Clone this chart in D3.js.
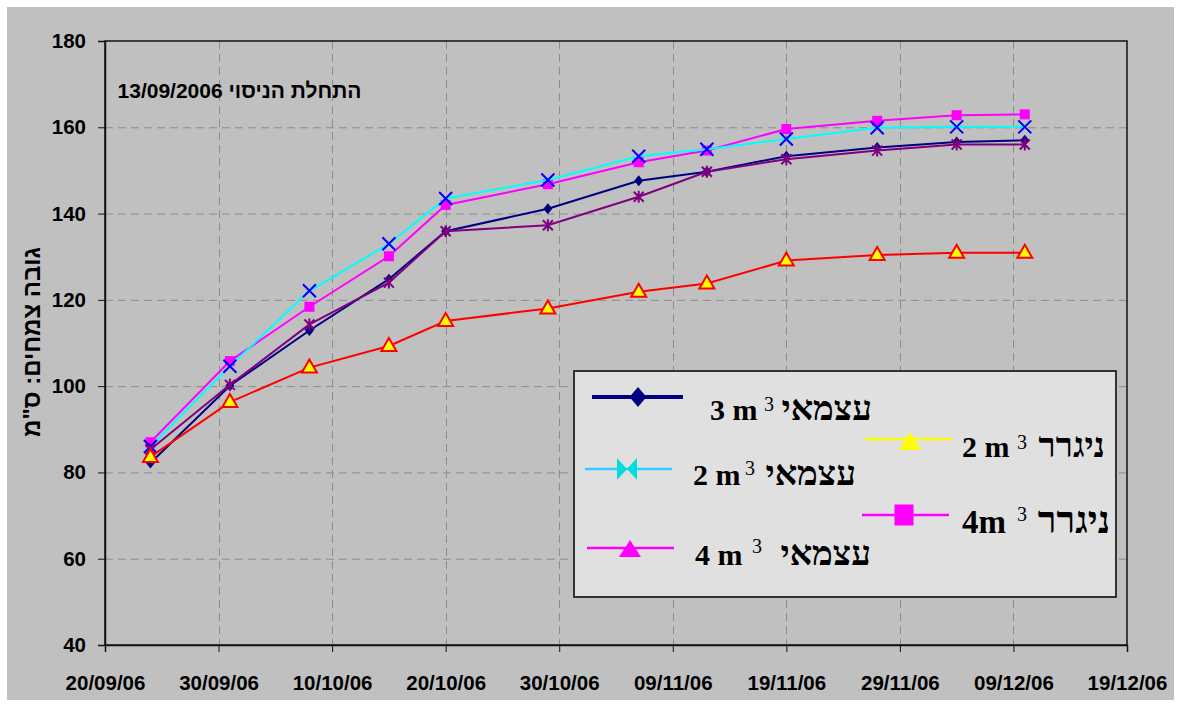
<!DOCTYPE html>
<html><head><meta charset="utf-8">
<script src="https://cdn.jsdelivr.net/npm/d3@7"></script>
<style>
html,body{margin:0;padding:0;background:#fff;}
svg{display:block;}
</style></head>
<body>
<svg id="chart" width="1188" height="707"></svg>
<script>
// ---- data ----
const dates = ["2006-09-24","2006-10-01","2006-10-08","2006-10-15","2006-10-20","2006-10-29","2006-11-06","2006-11-12","2006-11-19","2006-11-27","2006-12-04","2006-12-10"];
const navyDiamond   = [82.2, 100.1, 112.9, 124.8, 135.9, 141.1, 147.6, 149.7, 153.3, 155.3, 156.6, 157.0];
const magentaSquare = [87.0, 105.8, 118.4, 130.1, 142.0, 146.8, 151.9, 154.6, 159.6, 161.5, 162.8, 163.0];
const cyanCross     = [86.0, 104.6, 122.1, 133.0, 143.5, 147.8, 153.3, 154.9, 157.3, 159.9, 160.1, 160.1];
const purpleStar    = [85.3, 100.3, 114.3, 124.0, 135.9, 137.3, 143.9, 149.7, 152.6, 154.6, 156.0, 156.0];
const redTriangle   = [83.6, 96.3, 104.3, 109.3, 115.1, 118.0, 121.9, 123.8, 129.1, 130.4, 130.9, 130.9];
const xTickLabels = ["20/09/06","30/09/06","10/10/06","20/10/06","30/10/06","09/11/06","19/11/06","29/11/06","09/12/06","19/12/06"];
const yTicks = [40, 60, 80, 100, 120, 140, 160, 180];
const yTitle = "גובה צמחים: ס\"מ";
const note = "התחלת הניסוי 13/09/2006";
const legendItems = [
  {num:"3 m", sup:"3", heb:"עצמאי"},
  {num:"2 m", sup:"3", heb:"עצמאי"},
  {num:"4 m", sup:"3", heb:"עצמאי"},
  {num:"2 m", sup:"3", heb:"ניגרר"},
  {num:"4m",  sup:"3", heb:"ניגרר"}
];

// ---- layout ----
const svg = d3.select("#chart");
const L = 105, R = 1127, T = 41, B = 645;
const parse = d3.utcParse("%d/%m/%y");
const parseISO = d3.utcParse("%Y-%m-%d");
const tickDates = xTickLabels.map(parse);
const x = d3.scaleUtc().domain([tickDates[0], tickDates[tickDates.length-1]]).range([L, R]);
const y = d3.scaleLinear().domain([40, 180]).range([B, T]);
const sans = "'Liberation Sans', Arial, sans-serif";
const serif = "'Liberation Serif', 'Times New Roman', serif";

svg.append("rect").attr("x",7).attr("y",7).attr("width",1167).attr("height",693).attr("fill","#c0c0c0");

// grid
const grid = svg.append("g").attr("stroke","#8c8c8c").attr("stroke-width",1).attr("stroke-dasharray","8,5");
grid.selectAll("line.h").data(yTicks.slice(1,-1)).join("line")
  .attr("x1",L).attr("x2",R).attr("y1",d=>y(d)+0.5).attr("y2",d=>y(d)+0.5);
grid.selectAll("line.v").data(tickDates.slice(1,-1)).join("line")
  .attr("x1",d=>Math.round(x(d))+0.5).attr("x2",d=>Math.round(x(d))+0.5).attr("y1",T).attr("y2",B);

// plot border
svg.append("rect").attr("x",L).attr("y",T).attr("width",R-L).attr("height",B-T)
  .attr("fill","none").attr("stroke","#111").attr("stroke-width",1.5);

// axes
const yAxis = svg.append("g").attr("transform",`translate(${L},0)`)
  .call(d3.axisLeft(y).tickValues(yTicks).tickSize(7).tickPadding(12).tickFormat(d3.format("d")));
yAxis.select(".domain").attr("stroke","#111").attr("stroke-width",1.5);
yAxis.selectAll(".tick line").attr("stroke","#111");
yAxis.selectAll("text").attr("font-family",sans).attr("font-weight","bold").attr("font-size",20.5).attr("fill","#000");

const xAxis = svg.append("g").attr("transform",`translate(0,${B})`)
  .call(d3.axisBottom(x).tickValues(tickDates).tickSize(7).tickPadding(23).tickFormat(d3.utcFormat("%d/%m/%y")));
xAxis.select(".domain").attr("stroke","#111").attr("stroke-width",1.5);
xAxis.selectAll(".tick line").attr("stroke","#111");
xAxis.selectAll("text").attr("font-family",sans).attr("font-weight","bold").attr("font-size",20.5).attr("fill","#000");

// y title
svg.append("text").attr("transform","translate(40,342) rotate(-90)")
  .attr("text-anchor","middle").attr("font-family",sans).attr("font-weight","bold")
  .attr("font-size",24).attr("fill","#000").text(yTitle);

// annotation
svg.append("text").attr("x",239.5).attr("y",98).attr("text-anchor","middle")
  .attr("font-family",sans).attr("font-weight","bold").attr("font-size",21)
  .attr("fill","#000").attr("direction","rtl").style("unicode-bidi","embed").text(note);

// ---- series ----
const pts = arr => arr.map((v,i)=>({d:parseISO(dates[i]), v}));
const line = d3.line().x(p=>x(p.d)).y(p=>y(p.v));

function drawSeries(arr, color, marker){
  const g = svg.append("g");
  const data = pts(arr);
  g.append("path").datum(data).attr("d",line).attr("fill","none").attr("stroke",color).attr("stroke-width",2);
  data.forEach(p=>marker(g, x(p.d), y(p.v)));
}
const diamond = (g,cx,cy)=>g.append("path").attr("d",`M${cx},${cy-5.5}L${cx+4.5},${cy}L${cx},${cy+5.5}L${cx-4.5},${cy}Z`).attr("fill","#000080");
const square = (g,cx,cy)=>g.append("rect").attr("x",cx-5).attr("y",cy-5).attr("width",10).attr("height",10).attr("fill","#ff00ff");
const cross = (g,cx,cy)=>g.append("path").attr("d",`M${cx-6.5},${cy-6.5}L${cx+6.5},${cy+6.5}M${cx-6.5},${cy+6.5}L${cx+6.5},${cy-6.5}`).attr("stroke","#0000ff").attr("stroke-width",2);
const star = (g,cx,cy)=>g.append("path").attr("d",`M${cx-5},${cy-5}L${cx+5},${cy+5}M${cx-5},${cy+5}L${cx+5},${cy-5}M${cx},${cy-6}L${cx},${cy+6}`).attr("stroke","#800080").attr("stroke-width",2);
const tri = (g,cx,cy)=>g.append("path").attr("d",`M${cx},${cy-8}L${cx+7.5},${cy+5}L${cx-7.5},${cy+5}Z`).attr("fill","#ffff00").attr("stroke","#ff0000").attr("stroke-width",2);

drawSeries(navyDiamond, "#000080", diamond);
drawSeries(magentaSquare, "#ff00ff", square);
drawSeries(cyanCross, "#00ffff", cross);
drawSeries(purpleStar, "#800080", star);
drawSeries(redTriangle, "#ff0000", tri);

// ---- legend ----
const lg = svg.append("g");
lg.append("rect").attr("x",574).attr("y",371).attr("width",542).attr("height",226)
  .attr("fill","#e0e0e0").attr("stroke","#333").attr("stroke-width",2);

const legendLayout = [
  {x1:592,x2:683,ly:397,mx:638,color:"#000080",lw:4,numX:710,base:420,supX:764,supBase:411,hebEnd:872,fs:30,
   mark:(g,cx,cy)=>g.append("path").attr("d",`M${cx},${cy-10}L${cx+8.5},${cy}L${cx},${cy+10}L${cx-8.5},${cy}Z`).attr("fill","#000080")},
  {x1:585,x2:672,ly:469,mx:627,color:"#33ccff",lw:2.5,numX:693,base:485,supX:745,supBase:475,hebEnd:856,fs:30,
   mark:(g,cx,cy)=>g.append("path").attr("d",`M${cx-10},${cy-11}L${cx},${cy}L${cx-10},${cy+11}Z M${cx+10},${cy-11}L${cx},${cy}L${cx+10},${cy+11}Z`).attr("fill","#00dddd")},
  {x1:587,x2:674,ly:548,mx:630,color:"#ff00ff",lw:2.5,numX:695,base:565,supX:752,supBase:553,hebEnd:871,fs:30,
   mark:(g,cx,cy)=>g.append("path").attr("d",`M${cx},${cy-8}L${cx+11},${cy+9}L${cx-11},${cy+9}Z`).attr("fill","#ff00ff")},
  {x1:865,x2:952,ly:439,mx:910,color:"#ffff00",lw:2.5,numX:962,base:457,supX:1017,supBase:449,hebEnd:1105,fs:30,
   mark:(g,cx,cy)=>g.append("path").attr("d",`M${cx},${cy-7}L${cx+11},${cy+11}L${cx-11},${cy+11}Z`).attr("fill","#ffff00")},
  {x1:862,x2:949,ly:515,mx:904,color:"#ff00ff",lw:2.5,numX:962,base:533,supX:1017,supBase:521,hebEnd:1110,fs:33,
   mark:(g,cx,cy)=>g.append("rect").attr("x",cx-9.5).attr("y",cy-10.5).attr("width",19).attr("height",21).attr("fill","#ff00ff")}
];
legendItems.forEach((it,i)=>{
  const o = legendLayout[i];
  lg.append("line").attr("x1",o.x1).attr("x2",o.x2).attr("y1",o.ly).attr("y2",o.ly).attr("stroke",o.color).attr("stroke-width",o.lw);
  o.mark(lg,o.mx,o.ly);
  lg.append("text").attr("x",o.numX).attr("y",o.base).attr("font-family",serif).attr("font-weight","bold").attr("font-size",o.fs).attr("fill","#000").text(it.num);
  lg.append("text").attr("x",o.supX).attr("y",o.supBase).attr("font-family",serif).attr("font-weight","normal").attr("font-size",20).attr("fill","#000").text(it.sup);
  lg.append("text").attr("x",o.hebEnd).attr("y",o.base).attr("text-anchor","end").attr("font-family",serif).attr("font-weight","bold").attr("font-size",o.fs+5).attr("fill","#000").text(it.heb);
});
</script>
</body></html>
